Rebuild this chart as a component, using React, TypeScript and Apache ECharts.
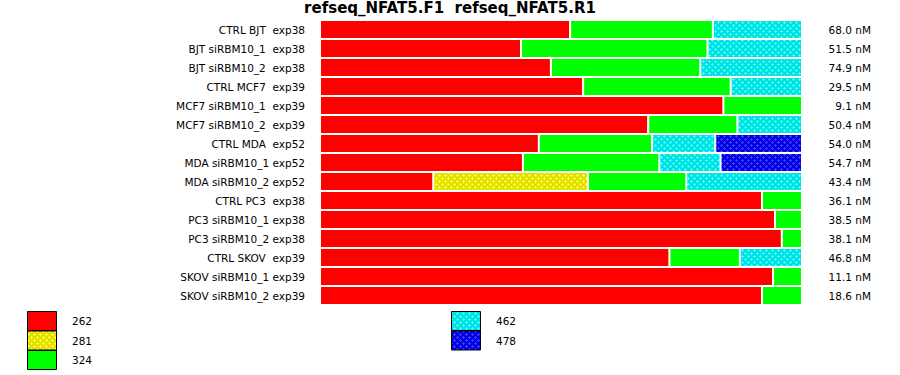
import React, { useEffect, useRef } from "react";
import * as echarts from "echarts";

const categories = [
  "CTRL BJT  exp38",
  "BJT siRBM10_1  exp38",
  "BJT siRBM10_2  exp38",
  "CTRL MCF7  exp39",
  "MCF7 siRBM10_1  exp39",
  "MCF7 siRBM10_2  exp39",
  "CTRL MDA  exp52",
  "MDA siRBM10_1 exp52",
  "MDA siRBM10_2 exp52",
  "CTRL PC3  exp38",
  "PC3 siRBM10_1 exp38",
  "PC3 siRBM10_2 exp38",
  "CTRL SKOV  exp39",
  "SKOV siRBM10_1 exp39",
  "SKOV siRBM10_2 exp39",
];
const concLabels = [
  "68.0 nM", "51.5 nM", "74.9 nM", "29.5 nM", "9.1 nM", "50.4 nM", "54.0 nM",
  "54.7 nM", "43.4 nM", "36.1 nM", "38.5 nM", "38.1 nM", "46.8 nM", "11.1 nM", "18.6 nM",
];
const seriesNames = ["262", "281", "324", "462", "478"];
const s262 = [51.9, 41.7, 47.9, 54.6, 83.7, 68.1, 45.4, 42.1, 23.5, 91.7, 94.4, 95.8, 72.5, 94.0, 91.7];
const s281 = [0, 0, 0, 0, 0, 0, 0, 0, 32.1, 0, 0, 0, 0, 0, 0];
const s324 = [29.6, 38.7, 31.0, 30.6, 16.3, 18.5, 23.5, 28.3, 20.4, 8.3, 5.6, 4.2, 14.6, 6.0, 8.3];
const s462 = [18.5, 19.6, 21.1, 14.8, 0, 13.4, 13.1, 12.7, 24.0, 0, 0, 0, 12.9, 0, 0];
const s478 = [0, 0, 0, 0, 0, 0, 18.0, 16.9, 0, 0, 0, 0, 0, 0, 0];
const seriesData = [s262, s281, s324, s462, s478];

const FONT = "DejaVu Sans";

function makePattern(bg: string, dot: string) {
  const c = document.createElement("canvas");
  c.width = 6;
  c.height = 6;
  const ctx = c.getContext("2d")!;
  ctx.fillStyle = bg;
  ctx.fillRect(0, 0, 6, 6);
  ctx.fillStyle = dot;
  const plus = (cx: number, cy: number) => {
    ctx.fillRect(cx - 1, cy, 3, 1);
    ctx.fillRect(cx, cy - 1, 1, 3);
  };
  plus(1, 1);
  plus(4, 4);
  return { image: c, repeat: "repeat", imageWidth: 6, imageHeight: 6 } as any;
}

export default function App() {
  const ref = useRef<HTMLDivElement>(null);
  useEffect(() => {
    const chart = echarts.init(ref.current!, undefined, { renderer: "svg" });
    const fills: any[] = [
      "#ff0000",
      makePattern("#e0e000", "#ffff40"),
      "#00ff00",
      makePattern("#00e0e0", "#40ffff"),
      makePattern("#0000e0", "#3c3cff"),
    ];
    const legendPos = [
      { x: 27, y: 311, tx: 72 },
      { x: 27, y: 330.5, tx: 72 },
      { x: 27, y: 350, tx: 72 },
      { x: 451, y: 311, tx: 496 },
      { x: 451, y: 330.5, tx: 496 },
    ];
    const graphic: any[] = [];
    seriesNames.forEach((name, i) => {
      const p = legendPos[i];
      graphic.push({
        type: "rect",
        shape: { x: p.x + 0.5, y: p.y + 0.5, width: 29, height: 19 },
        style: { fill: fills[i], stroke: "#000", lineWidth: 1 },
      });
      graphic.push({
        type: "text",
        x: p.tx,
        y: p.y + 10,
        style: {
          text: name,
          fill: "#000",
          font: `10.5px "${FONT}"`,
          verticalAlign: "middle",
          align: "left",
        },
      });
    });
    chart.setOption({
      animation: false,
      backgroundColor: "#fff",
      title: {
        text: "refseq_NFAT5.F1  refseq_NFAT5.R1",
        left: "center",
        top: 0,
        padding: 0,
        textStyle: { fontFamily: FONT, fontSize: 15, fontWeight: "bold", color: "#000" },
      },
      grid: { left: 320, right: 98, top: 20, bottom: 70 },
      xAxis: { type: "value", min: 0, max: 100, show: false },
      yAxis: [
        {
          type: "category",
          data: categories,
          inverse: true,
          position: "left",
          axisLine: { show: false },
          axisTick: { show: false },
          splitLine: { show: false },
          axisLabel: { margin: 15, color: "#000", fontFamily: FONT, fontSize: 10.5 },
        },
        {
          type: "category",
          data: concLabels,
          inverse: true,
          position: "right",
          axisLine: { show: false },
          axisTick: { show: false },
          splitLine: { show: false },
          axisLabel: { margin: 69, align: "right", color: "#000", fontFamily: FONT, fontSize: 10.5 },
        },
      ],
      series: seriesNames.map((name, i) => ({
        name,
        type: "bar",
        stack: "total",
        yAxisIndex: 0,
        barWidth: 19,
        data: seriesData[i],
        itemStyle: { color: fills[i], borderColor: "#fff", borderWidth: 1 },
      })),
      graphic,
    });
    return () => chart.dispose();
  }, []);
  return (
    <div
      ref={ref}
      style={{ position: "fixed", left: 0, top: 0, width: 900, height: 375 }}
    />
  );
}
